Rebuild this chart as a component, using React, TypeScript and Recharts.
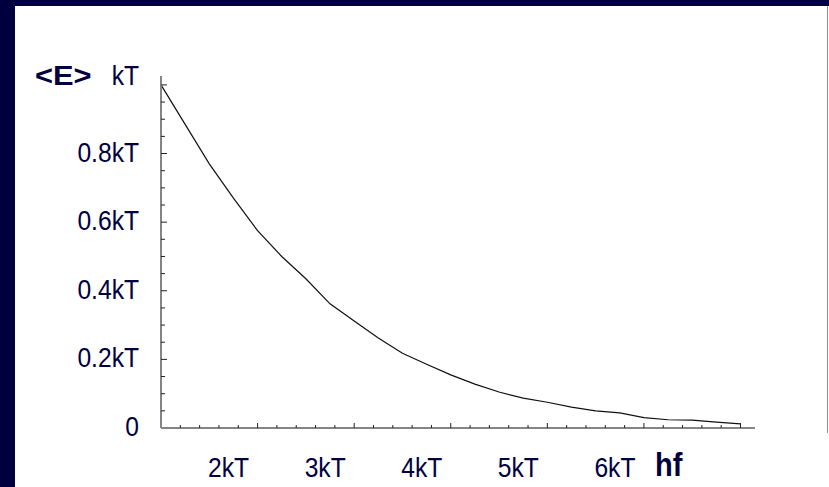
import { Line, LineChart, XAxis, YAxis } from 'recharts'

// hf in units beyond kT (axis position), <E> in units of kT
const hfSteps = [
  0, 0.25, 0.5, 0.75, 1, 1.25, 1.5, 1.75, 2, 2.25, 2.5, 2.75, 3, 3.25, 3.5, 3.75, 4, 4.25,
  4.5, 4.75, 5, 5.25, 5.5, 5.75, 6,
]
const energy = [
  1.0, 0.885, 0.77, 0.67, 0.575, 0.5, 0.435, 0.362, 0.312, 0.262, 0.218, 0.186, 0.155, 0.128,
  0.105, 0.087, 0.075, 0.061, 0.05, 0.044, 0.03, 0.024, 0.023, 0.017, 0.012,
]

const xTicks = [
  0, 0.2, 0.4, 0.6, 0.8, 1, 1.2, 1.4, 1.6, 1.8, 2, 2.2, 2.4, 2.6, 2.8, 3, 3.2, 3.4, 3.6, 3.8,
  4, 4.2, 4.4, 4.6, 4.8, 5, 5.2, 5.4, 5.6, 5.8, 6,
]
const xLabels: Record<number, string> = { 1: '2kT', 2: '3kT', 3: '4kT', 4: '5kT', 5: '6kT' }

const yTicks = [
  0, 0.05, 0.1, 0.15, 0.2, 0.25, 0.3, 0.35, 0.4, 0.45, 0.5, 0.55, 0.6, 0.65, 0.7, 0.75, 0.8,
  0.85, 0.9, 0.95, 1,
]
const yLabels: Record<number, string> = {
  0: '0',
  0.2: '0.2kT',
  0.4: '0.4kT',
  0.6: '0.6kT',
  0.8: '0.8kT',
  1: 'kT',
}

const data = hfSteps.map((u, i) => ({ u, e: energy[i] }))

const NAVY = '#00003f'
const FONT = '"Liberation Sans", Arial, sans-serif'

// narrow text, like the slide's condensed Arial
function SlideText({ x, y, size, anchor = 'start', bold = false, sx = 0.88, children }: any) {
  return (
    <text
      transform={`translate(${x},${y}) scale(${sx},1)`}
      textAnchor={anchor}
      fontSize={size}
      fontWeight={bold ? 'bold' : 'normal'}
      fill={NAVY}
      fontFamily={FONT}
    >
      {children}
    </text>
  )
}

function XTick({ x, y, payload }: any) {
  const v = payload.value as number
  const major = Math.abs(v - Math.round(v)) < 1e-6
  const label = xLabels[Math.round(v)]
  return (
    <g>
      {v > 0 && (
        <line x1={x} x2={x} y1={y} y2={y - (major ? 5 : 3)} stroke="#222" strokeWidth={1} />
      )}
      {major && label && (
        <SlideText x={x - 29} y={y + 49} size={28} anchor="middle">
          {label}
        </SlideText>
      )}
    </g>
  )
}

function YTick({ x, y, payload }: any) {
  const v = Math.round((payload.value as number) * 100) / 100
  const label = yLabels[v]
  const top = v === 1
  return (
    <g>
      {v > 0 && <line x1={x} x2={x + (label ? 6 : 4)} y1={y} y2={y} stroke="#222" strokeWidth={1} />}
      {label && (
        <SlideText x={x - 22} y={top ? y : y + 8} size={28} anchor="end">
          {label}
        </SlideText>
      )}
      {top && (
        <SlideText x={35} y={y} size={28} bold sx={1.1}>
          {'<E>'}
        </SlideText>
      )}
    </g>
  )
}

function HfLabel() {
  return (
    <SlideText x={655} y={476} size={33} bold>
      hf
    </SlideText>
  )
}

export default function App() {
  return (
    <div style={{ position: 'fixed', left: 0, top: 0, width: 829, height: 487, background: NAVY }}>
      <div style={{ position: 'absolute', left: 15, top: 6, width: 814, height: 481, background: '#fff' }} />
      <div style={{ position: 'absolute', left: 827, top: 6, width: 1, height: 427, background: '#8a8aa8' }} />
      <div style={{ position: 'absolute', left: 0, top: 0 }}>
        <LineChart width={829} height={487} data={data} margin={{ top: 76, right: 74, bottom: 29, left: 101 }}>
          <XAxis
            dataKey="u"
            type="number"
            domain={[0, 6.15]}
            ticks={xTicks}
            interval={0}
            height={30}
            tickSize={0}
            tickMargin={0}
            tickLine={false}
            axisLine={{ stroke: '#858585', strokeWidth: 2 }}
            tick={<XTick />}
            label={{ content: () => <HfLabel /> }}
          />
          <YAxis
            type="number"
            domain={[0, 1.026]}
            ticks={yTicks}
            interval={0}
            width={60}
            tickSize={0}
            tickMargin={0}
            tickLine={false}
            axisLine={{ stroke: '#858585', strokeWidth: 2 }}
            tick={<YTick />}
          />
          <Line
            dataKey="e"
            type="linear"
            stroke="#111"
            strokeWidth={1.2}
            dot={false}
            isAnimationActive={false}
          />
        </LineChart>
      </div>
    </div>
  )
}
